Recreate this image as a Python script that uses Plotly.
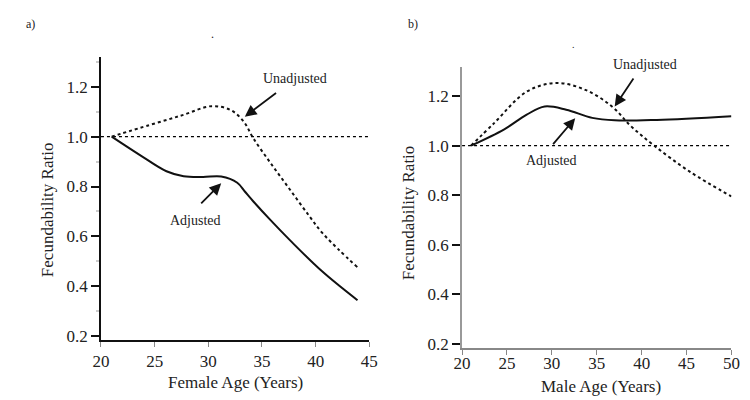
import plotly.graph_objects as go

# Panel a: female age
female_age_unadj = [21, 24.5, 27.6, 30.3, 32.1, 33.3, 34.2, 35.8, 37.6, 39.4, 40.6, 42.1, 43.9]
female_unadj = [1.0, 1.046, 1.086, 1.122, 1.106, 1.06, 0.993, 0.894, 0.788, 0.682, 0.615, 0.549, 0.476]
female_age_adj = [21, 23.6, 26.1, 27.7, 29.5, 31.2, 32.7, 33.4, 34.2, 35.8, 37.6, 40.6, 43.9]
female_adj = [1.0, 0.927, 0.861, 0.841, 0.838, 0.84, 0.815, 0.78, 0.74, 0.665, 0.585, 0.46, 0.344]

# Panel b: male age
male_age_unadj = [21, 23.6, 27.2, 30.5, 33.8, 36.7, 38.8, 41.4, 45.4, 50]
male_unadj = [1.0, 1.092, 1.218, 1.253, 1.224, 1.158, 1.079, 1.0, 0.894, 0.795]
male_age_adj = [21, 24.7, 27.2, 29.2, 31.6, 34.5, 37, 41.7, 50]
male_adj = [1.0, 1.066, 1.125, 1.158, 1.145, 1.112, 1.102, 1.104, 1.119]

ref_value = 1.0
y_ticks = [0.2, 0.4, 0.6, 0.8, 1.0, 1.2]
y_ticklabels = ["0.2", "0.4", "0.6", "0.8", "1.0", "1.2"]
xa_ticks = [20, 25, 30, 35, 40, 45]
xb_ticks = [20, 25, 30, 35, 40, 45, 50]

FONT = "Liberation Serif, Times New Roman, serif"
fig = go.Figure()

# reference lines
fig.add_trace(go.Scatter(x=[20, 45], y=[ref_value, ref_value], mode="lines",
                         line=dict(color="#000", width=1.3, dash="dot"), xaxis="x", yaxis="y", showlegend=False))
fig.add_trace(go.Scatter(x=[20, 50], y=[ref_value, ref_value], mode="lines",
                         line=dict(color="#000", width=1.3, dash="dot"), xaxis="x2", yaxis="y2", showlegend=False))

fig.add_trace(go.Scatter(x=female_age_unadj, y=female_unadj, mode="lines", line_shape="spline",
                         line=dict(color="#111", width=2, dash="dot", smoothing=1.0), xaxis="x", yaxis="y", showlegend=False))
fig.add_trace(go.Scatter(x=female_age_adj, y=female_adj, mode="lines", line_shape="spline",
                         line=dict(color="#111", width=2, smoothing=1.0), xaxis="x", yaxis="y", showlegend=False))
fig.add_trace(go.Scatter(x=male_age_unadj, y=male_unadj, mode="lines", line_shape="spline",
                         line=dict(color="#111", width=2, dash="dot", smoothing=1.0), xaxis="x2", yaxis="y2", showlegend=False))
fig.add_trace(go.Scatter(x=male_age_adj, y=male_adj, mode="lines", line_shape="spline",
                         line=dict(color="#111", width=2, smoothing=1.0), xaxis="x2", yaxis="y2", showlegend=False))

tickfont = dict(family=FONT, size=17, color="#222")
fig.update_layout(
    width=750, height=400, margin=dict(l=0, r=0, t=0, b=0),
    paper_bgcolor="white", plot_bgcolor="white",
    xaxis=dict(domain=[0.1147, 0.4813], range=[20, 45], tickvals=xa_ticks, ticks="outside", ticklen=5,
               tickcolor="#888", showline=True, linecolor="#111", linewidth=1.5, showgrid=False,
               zeroline=False, tickfont=tickfont, anchor="y"),
    yaxis=dict(domain=[0.1575, 0.875], range=[0.185, 1.318], tickvals=y_ticks, ticktext=y_ticklabels,
               ticks="outside", ticklen=8, tickwidth=2, tickcolor="#111", showline=True, linecolor="#111",
               linewidth=1.5, showgrid=False, zeroline=False, tickfont=tickfont, anchor="x",
               minor=dict(dtick=0.1, tick0=0.1, ticks="outside", ticklen=3, tickcolor="#ccc", showgrid=False)),
    xaxis2=dict(domain=[0.608, 0.976], range=[20, 50], tickvals=xb_ticks, ticks="outside", ticklen=5,
                tickcolor="#888", showline=True, linecolor="#888", linewidth=1.5, showgrid=False,
                zeroline=False, tickfont=tickfont, anchor="y2", ticklabelstandoff=-6),
    yaxis2=dict(domain=[0.1375, 0.85], range=[0.184, 1.317], tickvals=y_ticks, ticktext=y_ticklabels,
                ticks="outside", ticklen=8, tickwidth=2, tickcolor="#111", showline=True, linecolor="#999",
                linewidth=2, showgrid=False, zeroline=False, tickfont=tickfont, anchor="x2"),
)

def px_ann(text, x, y, size=16, angle=0):
    fig.add_annotation(text=text, xref="paper", yref="paper", x=x / 750, y=1 - y / 400,
                       showarrow=False, font=dict(family=FONT, size=size, color="#222"),
                       textangle=angle, xanchor="center", yanchor="middle")

px_ann("a)", 14, 16, size=12)
px_ann("b)", 406, 16, size=12)
px_ann(".", 200, 26, size=12)
px_ann(".", 570, 37, size=10)
px_ann("Female Age (Years)", 224, 380, size=17)
px_ann("Male Age (Years)", 598, 384, size=17)
px_ann("Fecundability Ratio", 32, 205, size=17, angle=-90)
px_ann("Fecundability Ratio", 402, 208, size=17, angle=-90)
px_ann("Unadjusted", 285, 72, size=14)
px_ann("Adjusted", 183, 216, size=14)
px_ann("Unadjusted", 643, 57, size=14)
px_ann("Adjusted", 548, 155, size=14)

def arrow(xr, yr, hx, hy, tx, ty):
    fig.add_annotation(x=hx, y=hy, ax=tx, ay=ty, xref=xr, yref=yr, axref=xr, ayref=yr, text="",
                       showarrow=True, arrowhead=2, arrowsize=1.3, arrowwidth=1.8, arrowcolor="#111")

arrow("x", "y", 33.4, 1.08, 36.45, 1.179)
arrow("x", "y", 31.2, 0.813, 29.2, 0.726)
arrow("x2", "y2", 37.0, 1.158, 39.2, 1.277)
arrow("x2", "y2", 32.6, 1.111, 30.0, 1.0)

fig.write_html("out.html")
